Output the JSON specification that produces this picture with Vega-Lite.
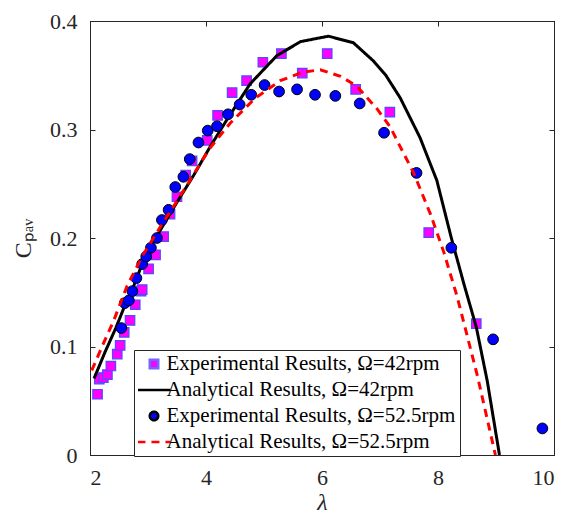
{
  "$schema": "https://vega.github.io/schema/vega-lite/v6.json",
  "width": 464,
  "height": 434,
  "autosize": {"type": "none"},
  "padding": {"left": 90, "top": 21, "right": 9, "bottom": 60},
  "background": "white",
  "config": {
    "view": {"stroke": "black", "strokeWidth": 1},
    "font": "Liberation Serif",
    "axis": {
      "domainColor": "#262626",
      "tickColor": "#262626",
      "labelColor": "#262626",
      "titleColor": "#262626",
      "labelFont": "Liberation Serif",
      "titleFont": "Liberation Serif",
      "labelFontSize": 22,
      "titleFontSize": 24,
      "titleFontWeight": "normal",
      "grid": false,
      "tickSize": -5
    },
    "legend": {
      "title": null,
      "orient": "none",
      "legendX": 44,
      "legendY": 329,
      "direction": "vertical",
      "padding": 4,
      "fillColor": "white",
      "strokeColor": "#262626",
      "labelFont": "Liberation Serif",
      "labelFontSize": 21,
      "labelColor": "#000000",
      "labelOffset": 2,
      "labelLimit": 400,
      "symbolSize": 72,
      "symbolStrokeWidth": 2.5,
      "symbolOpacity": 1,
      "clipHeight": 20,
      "rowPadding": 5,
      "symbolOffset": 5.5
    }
  },
  "datasets": {
    "pts": [
      {"series": "Experimental Results, Ω=42rpm", "lambda": 2.13, "cp": 0.056},
      {"series": "Experimental Results, Ω=42rpm", "lambda": 2.16, "cp": 0.070},
      {"series": "Experimental Results, Ω=42rpm", "lambda": 2.23, "cp": 0.0714},
      {"series": "Experimental Results, Ω=42rpm", "lambda": 2.30, "cp": 0.074},
      {"series": "Experimental Results, Ω=42rpm", "lambda": 2.36, "cp": 0.082},
      {"series": "Experimental Results, Ω=42rpm", "lambda": 2.47, "cp": 0.093},
      {"series": "Experimental Results, Ω=42rpm", "lambda": 2.52, "cp": 0.101},
      {"series": "Experimental Results, Ω=42rpm", "lambda": 2.59, "cp": 0.113},
      {"series": "Experimental Results, Ω=42rpm", "lambda": 2.69, "cp": 0.124},
      {"series": "Experimental Results, Ω=42rpm", "lambda": 2.78, "cp": 0.1385},
      {"series": "Experimental Results, Ω=42rpm", "lambda": 2.88, "cp": 0.151},
      {"series": "Experimental Results, Ω=42rpm", "lambda": 2.90, "cp": 0.1525},
      {"series": "Experimental Results, Ω=42rpm", "lambda": 3.01, "cp": 0.1716},
      {"series": "Experimental Results, Ω=42rpm", "lambda": 3.13, "cp": 0.1845},
      {"series": "Experimental Results, Ω=42rpm", "lambda": 3.27, "cp": 0.2013},
      {"series": "Experimental Results, Ω=42rpm", "lambda": 3.38, "cp": 0.222},
      {"series": "Experimental Results, Ω=42rpm", "lambda": 3.50, "cp": 0.238},
      {"series": "Experimental Results, Ω=42rpm", "lambda": 3.65, "cp": 0.258},
      {"series": "Experimental Results, Ω=42rpm", "lambda": 3.76, "cp": 0.271},
      {"series": "Experimental Results, Ω=42rpm", "lambda": 4.02, "cp": 0.290},
      {"series": "Experimental Results, Ω=42rpm", "lambda": 4.20, "cp": 0.313},
      {"series": "Experimental Results, Ω=42rpm", "lambda": 4.45, "cp": 0.334},
      {"series": "Experimental Results, Ω=42rpm", "lambda": 4.70, "cp": 0.345},
      {"series": "Experimental Results, Ω=42rpm", "lambda": 4.98, "cp": 0.362},
      {"series": "Experimental Results, Ω=42rpm", "lambda": 5.30, "cp": 0.370},
      {"series": "Experimental Results, Ω=42rpm", "lambda": 5.66, "cp": 0.352},
      {"series": "Experimental Results, Ω=42rpm", "lambda": 6.09, "cp": 0.370},
      {"series": "Experimental Results, Ω=42rpm", "lambda": 6.58, "cp": 0.337},
      {"series": "Experimental Results, Ω=42rpm", "lambda": 7.17, "cp": 0.316},
      {"series": "Experimental Results, Ω=42rpm", "lambda": 7.84, "cp": 0.205},
      {"series": "Experimental Results, Ω=42rpm", "lambda": 8.66, "cp": 0.121},
      {"series": "Experimental Results, Ω=52.5rpm", "lambda": 2.54, "cp": 0.117},
      {"series": "Experimental Results, Ω=52.5rpm", "lambda": 2.60, "cp": 0.140},
      {"series": "Experimental Results, Ω=52.5rpm", "lambda": 2.67, "cp": 0.1425},
      {"series": "Experimental Results, Ω=52.5rpm", "lambda": 2.73, "cp": 0.151},
      {"series": "Experimental Results, Ω=52.5rpm", "lambda": 2.80, "cp": 0.163},
      {"series": "Experimental Results, Ω=52.5rpm", "lambda": 2.90, "cp": 0.176},
      {"series": "Experimental Results, Ω=52.5rpm", "lambda": 2.97, "cp": 0.183},
      {"series": "Experimental Results, Ω=52.5rpm", "lambda": 3.05, "cp": 0.191},
      {"series": "Experimental Results, Ω=52.5rpm", "lambda": 3.155, "cp": 0.200},
      {"series": "Experimental Results, Ω=52.5rpm", "lambda": 3.24, "cp": 0.2166},
      {"series": "Experimental Results, Ω=52.5rpm", "lambda": 3.355, "cp": 0.226},
      {"series": "Experimental Results, Ω=52.5rpm", "lambda": 3.47, "cp": 0.247},
      {"series": "Experimental Results, Ω=52.5rpm", "lambda": 3.61, "cp": 0.2564},
      {"series": "Experimental Results, Ω=52.5rpm", "lambda": 3.72, "cp": 0.2727},
      {"series": "Experimental Results, Ω=52.5rpm", "lambda": 3.87, "cp": 0.288},
      {"series": "Experimental Results, Ω=52.5rpm", "lambda": 4.03, "cp": 0.299},
      {"series": "Experimental Results, Ω=52.5rpm", "lambda": 4.19, "cp": 0.303},
      {"series": "Experimental Results, Ω=52.5rpm", "lambda": 4.38, "cp": 0.314},
      {"series": "Experimental Results, Ω=52.5rpm", "lambda": 4.58, "cp": 0.323},
      {"series": "Experimental Results, Ω=52.5rpm", "lambda": 4.78, "cp": 0.332},
      {"series": "Experimental Results, Ω=52.5rpm", "lambda": 5.01, "cp": 0.341},
      {"series": "Experimental Results, Ω=52.5rpm", "lambda": 5.26, "cp": 0.335},
      {"series": "Experimental Results, Ω=52.5rpm", "lambda": 5.57, "cp": 0.337},
      {"series": "Experimental Results, Ω=52.5rpm", "lambda": 5.88, "cp": 0.332},
      {"series": "Experimental Results, Ω=52.5rpm", "lambda": 6.23, "cp": 0.331},
      {"series": "Experimental Results, Ω=52.5rpm", "lambda": 6.65, "cp": 0.324},
      {"series": "Experimental Results, Ω=52.5rpm", "lambda": 7.07, "cp": 0.297},
      {"series": "Experimental Results, Ω=52.5rpm", "lambda": 7.63, "cp": 0.260},
      {"series": "Experimental Results, Ω=52.5rpm", "lambda": 8.23, "cp": 0.191},
      {"series": "Experimental Results, Ω=52.5rpm", "lambda": 8.95, "cp": 0.1066},
      {"series": "Experimental Results, Ω=52.5rpm", "lambda": 9.80, "cp": 0.0245}
    ],
    "curves": [
      {"series": "Analytical Results, Ω=42rpm", "lambda": 2.07, "cp": 0.0705},
      {"series": "Analytical Results, Ω=42rpm", "lambda": 2.26, "cp": 0.095},
      {"series": "Analytical Results, Ω=42rpm", "lambda": 2.44, "cp": 0.1164},
      {"series": "Analytical Results, Ω=42rpm", "lambda": 2.58, "cp": 0.135},
      {"series": "Analytical Results, Ω=42rpm", "lambda": 2.72, "cp": 0.151},
      {"series": "Analytical Results, Ω=42rpm", "lambda": 2.92, "cp": 0.179},
      {"series": "Analytical Results, Ω=42rpm", "lambda": 3.21, "cp": 0.207},
      {"series": "Analytical Results, Ω=42rpm", "lambda": 3.50, "cp": 0.233},
      {"series": "Analytical Results, Ω=42rpm", "lambda": 3.79, "cp": 0.258},
      {"series": "Analytical Results, Ω=42rpm", "lambda": 4.07, "cp": 0.284},
      {"series": "Analytical Results, Ω=42rpm", "lambda": 4.36, "cp": 0.309},
      {"series": "Analytical Results, Ω=42rpm", "lambda": 4.76, "cp": 0.342},
      {"series": "Analytical Results, Ω=42rpm", "lambda": 5.22, "cp": 0.368},
      {"series": "Analytical Results, Ω=42rpm", "lambda": 5.63, "cp": 0.381},
      {"series": "Analytical Results, Ω=42rpm", "lambda": 6.11, "cp": 0.386},
      {"series": "Analytical Results, Ω=42rpm", "lambda": 6.54, "cp": 0.380},
      {"series": "Analytical Results, Ω=42rpm", "lambda": 6.89, "cp": 0.363},
      {"series": "Analytical Results, Ω=42rpm", "lambda": 7.10, "cp": 0.350},
      {"series": "Analytical Results, Ω=42rpm", "lambda": 7.35, "cp": 0.329},
      {"series": "Analytical Results, Ω=42rpm", "lambda": 7.69, "cp": 0.2925},
      {"series": "Analytical Results, Ω=42rpm", "lambda": 7.98, "cp": 0.253},
      {"series": "Analytical Results, Ω=42rpm", "lambda": 8.23, "cp": 0.200},
      {"series": "Analytical Results, Ω=42rpm", "lambda": 8.45, "cp": 0.157},
      {"series": "Analytical Results, Ω=42rpm", "lambda": 8.66, "cp": 0.118},
      {"series": "Analytical Results, Ω=42rpm", "lambda": 8.85, "cp": 0.068},
      {"series": "Analytical Results, Ω=42rpm", "lambda": 9.06, "cp": 0.0},
      {"series": "Analytical Results, Ω=52.5rpm", "lambda": 2.03, "cp": 0.078},
      {"series": "Analytical Results, Ω=52.5rpm", "lambda": 2.23, "cp": 0.1026},
      {"series": "Analytical Results, Ω=52.5rpm", "lambda": 2.41, "cp": 0.124},
      {"series": "Analytical Results, Ω=52.5rpm", "lambda": 2.64, "cp": 0.156},
      {"series": "Analytical Results, Ω=52.5rpm", "lambda": 2.92, "cp": 0.185},
      {"series": "Analytical Results, Ω=52.5rpm", "lambda": 3.21, "cp": 0.210},
      {"series": "Analytical Results, Ω=52.5rpm", "lambda": 3.50, "cp": 0.234},
      {"series": "Analytical Results, Ω=52.5rpm", "lambda": 3.79, "cp": 0.259},
      {"series": "Analytical Results, Ω=52.5rpm", "lambda": 4.07, "cp": 0.283},
      {"series": "Analytical Results, Ω=52.5rpm", "lambda": 4.42, "cp": 0.306},
      {"series": "Analytical Results, Ω=52.5rpm", "lambda": 4.85, "cp": 0.329},
      {"series": "Analytical Results, Ω=52.5rpm", "lambda": 5.28, "cp": 0.345},
      {"series": "Analytical Results, Ω=52.5rpm", "lambda": 5.68, "cp": 0.353},
      {"series": "Analytical Results, Ω=52.5rpm", "lambda": 5.97, "cp": 0.355},
      {"series": "Analytical Results, Ω=52.5rpm", "lambda": 6.32, "cp": 0.349},
      {"series": "Analytical Results, Ω=52.5rpm", "lambda": 6.60, "cp": 0.340},
      {"series": "Analytical Results, Ω=52.5rpm", "lambda": 6.95, "cp": 0.319},
      {"series": "Analytical Results, Ω=52.5rpm", "lambda": 7.18, "cp": 0.302},
      {"series": "Analytical Results, Ω=52.5rpm", "lambda": 7.35, "cp": 0.284},
      {"series": "Analytical Results, Ω=52.5rpm", "lambda": 7.58, "cp": 0.260},
      {"series": "Analytical Results, Ω=52.5rpm", "lambda": 7.87, "cp": 0.222},
      {"series": "Analytical Results, Ω=52.5rpm", "lambda": 8.10, "cp": 0.187},
      {"series": "Analytical Results, Ω=52.5rpm", "lambda": 8.33, "cp": 0.146},
      {"series": "Analytical Results, Ω=52.5rpm", "lambda": 8.67, "cp": 0.075},
      {"series": "Analytical Results, Ω=52.5rpm", "lambda": 8.99, "cp": 0.0}
    ]
  },
  "resolve": {"axis": {"x": "independent", "y": "independent"}},
  "layer": [
    {
      "data": {"name": "pts"},
      "transform": [{"filter": "indexof(datum.series, '42rpm') >= 0"}],
      "mark": {"type": "point", "filled": true, "size": 90, "opacity": 1, "stroke": "#4d4dff", "strokeWidth": 1.2},
      "encoding": {
        "x": {"field": "lambda", "type": "quantitative", "scale": {"domain": [2, 10], "nice": false, "zero": false},
              "axis": {"title": "λ", "titleFontStyle": "italic", "values": [2, 4, 6, 8, 10], "format": "d", "titlePadding": 2, "labelPadding": 17, "labelFont": "Liberation Serif", "titleFont": "Liberation Serif", "labelFontSize": 22, "titleFontSize": 24}},
        "y": {"field": "cp", "type": "quantitative", "scale": {"domain": [0, 0.4], "nice": false, "zero": false},
              "axis": {"title": "Cₚₐᵥ", "values": [0, 0.1, 0.2, 0.3, 0.4], "format": "~g", "titlePadding": 14, "labelPadding": 18, "labelFont": "Liberation Serif", "titleFont": "Liberation Serif", "labelFontSize": 22, "titleFontSize": 24}},
        "fill": {
          "field": "series", "type": "nominal",
          "scale": {
            "domain": ["Experimental Results, Ω=42rpm", "Analytical Results, Ω=42rpm", "Experimental Results, Ω=52.5rpm", "Analytical Results, Ω=52.5rpm"],
            "range": ["#ff00ff", "#000000", "#0000ff", "#ff0000"]
          }
        },
        "shape": {
          "field": "series", "type": "nominal",
          "scale": {
            "domain": ["Experimental Results, Ω=42rpm", "Analytical Results, Ω=42rpm", "Experimental Results, Ω=52.5rpm", "Analytical Results, Ω=52.5rpm"],
            "range": ["square", "M-3.9,0H3.9", "circle", "M-3.9,0H3.9"]
          }
        }
      }
    },
    {
      "data": {"name": "curves"},
      "transform": [{"filter": "indexof(datum.series, '42rpm') >= 0"}],
      "mark": {"type": "line", "strokeWidth": 3, "clip": true},
      "encoding": {
        "x": {"field": "lambda", "type": "quantitative", "axis": {"orient": "top", "labels": false, "title": null, "values": [2, 4, 6, 8, 10]}},
        "y": {"field": "cp", "type": "quantitative", "axis": {"orient": "right", "labels": false, "title": null, "values": [0, 0.1, 0.2, 0.3, 0.4]}},
        "stroke": {
          "field": "series", "type": "nominal",
          "scale": {
            "domain": ["Experimental Results, Ω=42rpm", "Analytical Results, Ω=42rpm", "Experimental Results, Ω=52.5rpm", "Analytical Results, Ω=52.5rpm"],
            "range": ["#6a6aff", "#000000", "#000000", "#ff0000"]
          }
        },
        "strokeDash": {
          "field": "series", "type": "nominal",
          "scale": {
            "domain": ["Experimental Results, Ω=42rpm", "Analytical Results, Ω=42rpm", "Experimental Results, Ω=52.5rpm", "Analytical Results, Ω=52.5rpm"],
            "range": [[1, 0], [1, 0], [1, 0], [8, 6]]
          }
        }
      }
    },
    {
      "data": {"name": "pts"},
      "transform": [{"filter": "indexof(datum.series, '52.5rpm') >= 0"}],
      "mark": {"type": "point", "filled": true, "size": 115, "opacity": 1, "stroke": "#000000", "strokeWidth": 1},
      "encoding": {
        "x": {"field": "lambda", "type": "quantitative", "axis": null},
        "y": {"field": "cp", "type": "quantitative", "axis": null},
        "fill": {"field": "series", "type": "nominal"},
        "shape": {"field": "series", "type": "nominal"}
      }
    },
    {
      "data": {"name": "curves"},
      "transform": [{"filter": "indexof(datum.series, '52.5rpm') >= 0"}],
      "mark": {"type": "line", "strokeWidth": 3, "clip": true},
      "encoding": {
        "x": {"field": "lambda", "type": "quantitative", "axis": null},
        "y": {"field": "cp", "type": "quantitative", "axis": null},
        "stroke": {"field": "series", "type": "nominal"},
        "strokeDash": {"field": "series", "type": "nominal"}
      }
    }
  ]
}
